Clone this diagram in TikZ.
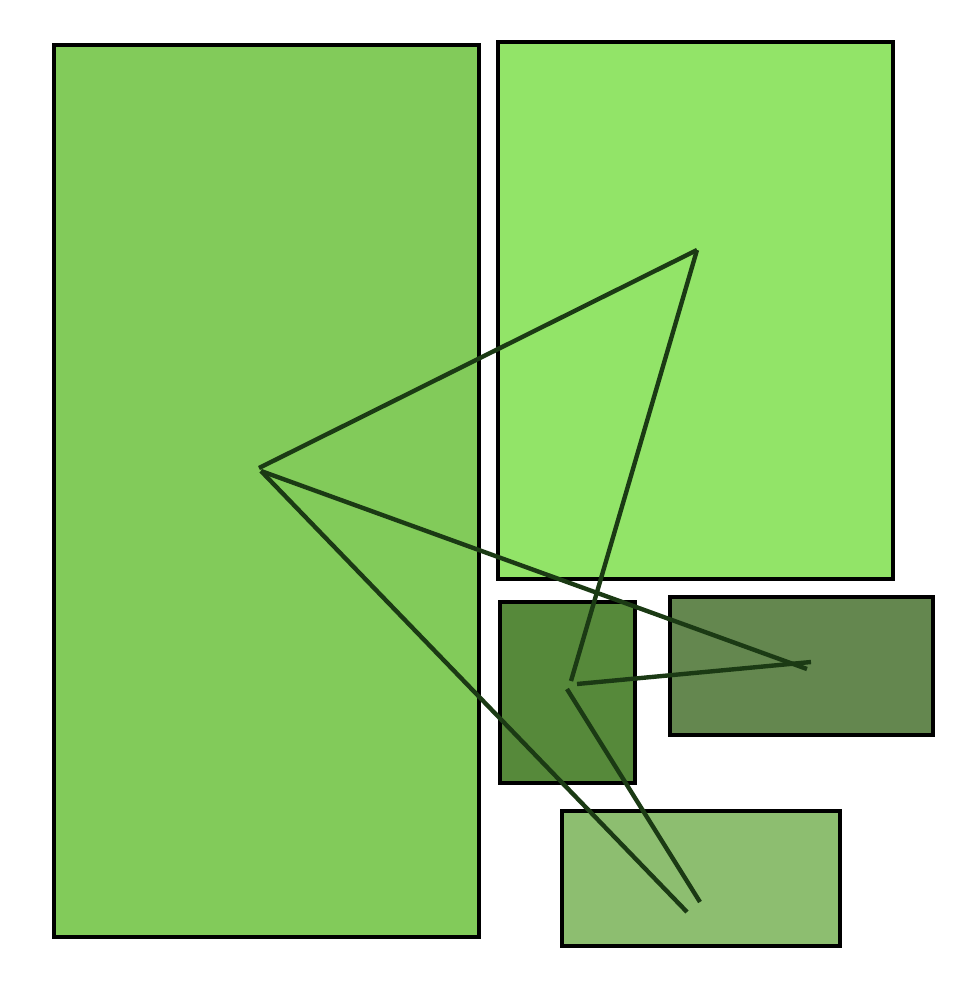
\documentclass[tikz,border=0pt]{standalone}
\usepackage{tikz}

\definecolor{leafA}{HTML}{82CB5A}
\definecolor{leafB}{HTML}{92E468}
\definecolor{leafC}{HTML}{56893A}
\definecolor{leafD}{HTML}{64874F}
\definecolor{leafE}{HTML}{8DBE70}
\definecolor{stem}{HTML}{1B3A14}

\begin{document}
\begin{tikzpicture}[
        x=0.02cm, y=-0.02cm,
        inner sep=0pt,
        box/.style={rectangle, draw=black, line width=2.1pt},
        link/.style={draw=stem, line width=2.5pt}
      ]
      \useasboundingbox (0,0) rectangle (978,985);
      \node (big) [box, fill=leafA, minimum width=8.5cm, minimum height=17.84cm] at (266.5,491) {};
      \node (top) [box, fill=leafB, minimum width=7.9cm, minimum height=10.74cm] at (695.5,310.5) {};
      \node (mid) [box, fill=leafC, minimum width=2.7cm, minimum height=3.62cm] at (567.5,692.5) {};
      \node (side) [box, fill=leafD, minimum width=5.26cm, minimum height=2.76cm] at (801.5,666) {};
      \node (low) [box, fill=leafE, minimum width=5.56cm, minimum height=2.7cm] at (701,878.5) {};
      % ends of the links
      \coordinate (b1) at (259,468);
      \coordinate (b2) at (261,471);
      \coordinate (t1) at (697,250);
      \coordinate (m1) at (571,681);
      \coordinate (m2) at (577,684);
      \coordinate (m3) at (567,689);
      \coordinate (s1) at (807,669);
      \coordinate (s2) at (811,662);
      \coordinate (l1) at (687,912);
      \coordinate (l2) at (700,902);
      \draw [link] (b1) -- (t1);
      \draw [link] (t1) -- (m1);
      \draw [link] (b2) -- (s1);
      \draw [link] (b2) -- (l1);
      \draw [link] (m2) -- (s2);
      \draw [link] (m3) -- (l2);
    \end{tikzpicture}
\end{document}
